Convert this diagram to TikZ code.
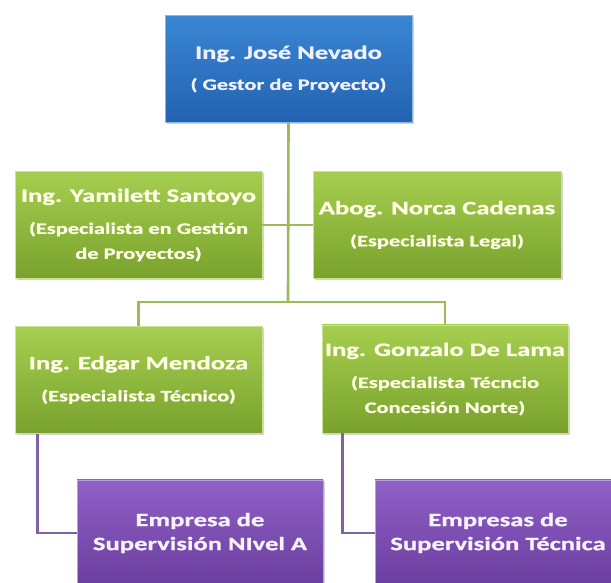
\documentclass[tikz,border=0pt]{standalone}
\usepackage{fontspec}
\usepackage{graphicx}
\setmainfont{Carlito}[BoldFeatures={FakeBold=0.8}]
\usetikzlibrary{shadows,calc}
\definecolor{bluetop}{HTML}{3A86D4}
\definecolor{bluemid}{HTML}{2E73C3}
\definecolor{bluebot}{HTML}{2262B0}
\definecolor{greentop}{HTML}{A6CE50}
\definecolor{greenmid}{HTML}{8DB83C}
\definecolor{greenbot}{HTML}{78A22C}
\definecolor{purtop}{HTML}{8F60C6}
\definecolor{purmid}{HTML}{7A4DB2}
\definecolor{purbot}{HTML}{6A3E9E}
\definecolor{gline}{HTML}{9BBB59}
\definecolor{pline}{HTML}{7F62A6}
\newcommand\sx[1]{\scalebox{1.4}[1]{#1}}
\newcommand\nm[1]{\sx{\fontsize{19}{19}\selectfont #1}}
\tikzset{
  x=1pt, y=1pt,
  orgbox/.style={rectangle, minimum width=247pt, minimum height=107pt, inner sep=0pt,
    align=center, font=\bfseries\fontsize{16}{25}\selectfont,
    drop shadow={shadow xshift=1.5pt, shadow yshift=-2pt, opacity=0.35}},
  bluebox/.style={orgbox, top color=bluetop, middle color=bluemid, bottom color=bluebot,
    draw=bluetop!60!white, line width=0.6pt, text=white!94!blue},
  greenbox/.style={orgbox, top color=greentop, middle color=greenmid, bottom color=greenbot,
    draw=greentop!60!white, line width=0.6pt, text=white!90!yellow},
  purbox/.style={orgbox, top color=purtop, middle color=purmid, bottom color=purbot,
    draw=purtop!60!white, line width=0.6pt, text=white!92!purtop,
    font=\bfseries\fontsize{19}{24}\selectfont},
  gconn/.style={draw=gline, line width=2.6pt},
  pconn/.style={draw=pline, line width=2.6pt},
}
\begin{document}
\begin{tikzpicture}
\useasboundingbox (0,0) rectangle (611,583);
\clip (0,0) rectangle (611,583);
\fill[white] (0,0) rectangle (611,583);

\coordinate (bus) at (288,281);
\coordinate (topc) at (288.5,514);
\coordinate (yamc) at (138.5,358);
\coordinate (norc) at (437,358);
\coordinate (edgc) at (138.5,203);
\coordinate (gonc) at (445,204);

\node[bluebox] (top) at (topc) {\nm{Ing. José Nevado}\\[6pt]\sx{( Gestor de Proyecto)}};
\node[greenbox] (yam) at (yamc) {\nm{Ing. Yamilett Santoyo}\\[7pt]\sx{(Especialista en Gestión}\\\sx{de Proyectos)}};
\node[greenbox, minimum width=248pt] (nor) at (norc) {\nm{Abog. Norca Cadenas}\\[7pt]\sx{(Especialista Legal)}};
\node[greenbox] (edg) at (edgc) {\nm{Ing. Edgar Mendoza}\\[7pt]\sx{(Especialista Técnico)}};
\node[greenbox, minimum width=246pt, minimum height=108pt] (gon) at (gonc) {\nm{Ing. Gonzalo De Lama}\\[7pt]\sx{(Especialista Técncio}\\\sx{Concesión Norte)}};

\node[purbox, minimum width=246pt, minimum height=106pt] (pa) at (200,50) {\sx{Empresa de}\\\sx{Supervisión NIvel A}};
\node[purbox, minimum width=246pt, minimum height=106pt] (pb) at (498,50) {\sx{Empresas de}\\\sx{Supervisión Técnica}};

\draw[gconn] (top.south) -- (bus);
\draw[gconn] (yam.east) -- (nor.west);
\draw[gconn] (edg.north) |- (bus) -| (gon.north);
\draw[pconn] ($(edg.south west)+(23,0)$) |- (pa.west);
\draw[pconn] ($(gon.south west)+(21,0)$) |- (pb.west);
\end{tikzpicture}
\end{document}
